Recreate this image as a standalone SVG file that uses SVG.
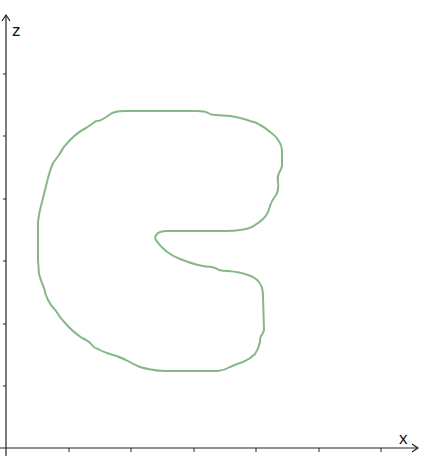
<svg xmlns="http://www.w3.org/2000/svg" width="430" height="462" viewBox="0 0 430 462">
<style>
.ax{stroke:#222;stroke-width:1.2;fill:none}
.tk{stroke:#222;stroke-width:1}
.lbl{font-family:"Liberation Sans",Arial,sans-serif;font-size:17px;fill:#111}
.shape{fill:none;stroke:#86b886;stroke-width:2;stroke-linejoin:round;stroke-linecap:round}
</style>
<rect width="430" height="462" fill="#fff"/>
<g id="axes">
<line class="ax" x1="6" y1="456" x2="6" y2="15"/>
<polyline class="ax" points="2,21 6,15 10,21"/>
<line class="ax" x1="0" y1="448" x2="418" y2="448"/>
<polyline class="ax" points="412,444 418,448 412,452"/>
<g class="tk">
<line x1="69" y1="448" x2="69" y2="452"/>
<line x1="131" y1="448" x2="131" y2="452"/>
<line x1="194" y1="448" x2="194" y2="452"/>
<line x1="256" y1="448" x2="256" y2="452"/>
<line x1="319" y1="448" x2="319" y2="452"/>
<line x1="381" y1="448" x2="381" y2="452"/>
<line x1="3" y1="74" x2="6" y2="74"/>
<line x1="3" y1="136" x2="6" y2="136"/>
<line x1="3" y1="199" x2="6" y2="199"/>
<line x1="3" y1="261" x2="6" y2="261"/>
<line x1="3" y1="324" x2="6" y2="324"/>
<line x1="3" y1="386" x2="6" y2="386"/>
</g>
<text class="lbl" x="12" y="36">z</text>
<text class="lbl" x="399" y="444">x</text>
</g>
<g id="shape">
<path class="shape" d="M124,111 L197,111 Q205,111 208,113 Q211,115 216,115 L230,116 Q242,118 250,121 Q256,122 260,125 Q266,128 270,132 Q276,136 278,140 Q282,145 282,152 L282,166 Q281,170 279,173 Q277,177 278,182 Q279,190 276,195 Q272,200 270,206 Q268,214 264,218 Q260,222 255,225 Q250,229 240,230 Q234,231 227,231 L167,231 Q160,231 157,234 Q154,237 156,240 Q159,245 166,251 Q172,256 180,259 Q190,263 198,265 Q206,267 212,267 Q216,268 219,270 Q222,271 228,271 Q240,272 248,275 Q255,277 259,282 Q263,287 263,296 L264,330 Q263,334 261,336 Q260,338 260,342 Q259,348 255,354 Q250,359 243,362 Q236,364 230,367 Q225,370 218,371 L163,371 Q150,370 140,367 Q133,364 126,360 Q118,356 110,354 Q101,351 98,349 Q94,348 92,345 Q89,341 82,338 Q72,331 66,324 Q60,318 56,311 Q51,306 48,300 Q45,294 44,288 Q41,281 39,274 L38,260 L38,222 Q39,212 42,202 Q45,190 48,178 Q50,170 53,163 Q56,159 59,155 Q63,147 70,140 Q78,132 86,128 Q92,124 96,121 Q100,121 103,119 Q108,116 112,113 Q117,111 124,111 Z"/>
</g>
</svg>
